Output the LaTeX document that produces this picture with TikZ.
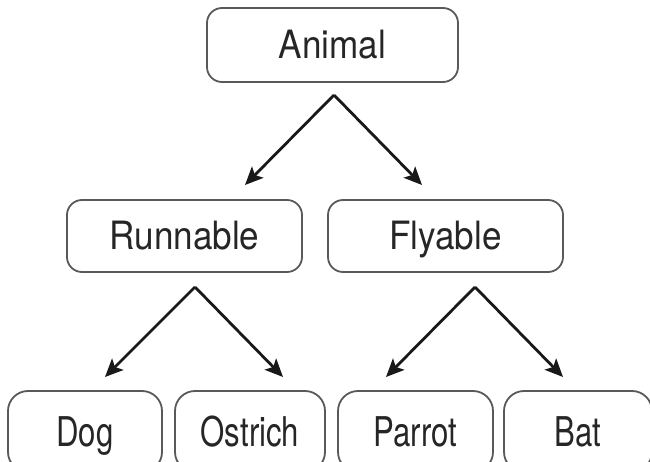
\documentclass[tikz,border=0pt]{standalone}
\usepackage{fontspec}
\newfontfamily\boxfont[FakeStretch=0.9]{TeX Gyre Heros}
\newfontfamily\leaffont[FakeStretch=0.76]{TeX Gyre Heros}
\usetikzlibrary{arrows.meta,positioning}
\colorlet{boxline}{black!65}
\tikzstyle{kind}=[draw=boxline,line width=1.8pt,rounded corners=15pt,
  minimum width=235pt,minimum height=72pt,inner sep=0pt,
  text height=28pt,text depth=0pt,text=black!85,
  font=\boxfont\fontsize{39}{39}\selectfont]
\tikzstyle{leaf}=[draw=boxline,line width=1.8pt,rounded corners=20pt,
  minimum width=152pt,minimum height=81pt,inner sep=0pt,
  text height=29.5pt,text depth=0pt,text=black!85,
  font=\leaffont\fontsize{41}{41}\selectfont]
\tikzstyle{isa}=[-{Stealth[length=18pt,width=16pt,inset=4pt]},line width=2.8pt,black!90]

\begin{document}
\begin{tikzpicture}[x=1pt, y=1pt, on grid]
  \useasboundingbox (0,0) rectangle (650,-462);
  \node[kind, minimum width=251pt, minimum height=74pt] (animal) at (332.5,-45) {Animal};
  \node[kind, below=191pt of animal, xshift=-148pt] (runnable) {Runnable};
  \node[kind, right=261pt of runnable]              (flyable)  {Flyable};
  \node[leaf, minimum width=154pt] (dog)     at (85,-431.5)   {Dog};
  \node[leaf, right=165pt of dog, minimum width=150pt] (ostrich) {Ostrich};
  \node[leaf, right=165.5pt of ostrich, minimum width=155pt] (parrot) {Parrot};
  \node[leaf, right=162.5pt of parrot, minimum width=148pt]  (bat) {Bat};

  % arrow ends
  \coordinate (a0) at (334,-95);
  \coordinate (a1) at (245,-185);
  \coordinate (a2) at (422,-185);
  \coordinate (r0) at (195,-287);
  \coordinate (r1) at (105,-377);
  \coordinate (r2) at (283,-377);
  \coordinate (f0) at (475,-287);
  \coordinate (f1) at (386,-377);
  \coordinate (f2) at (563,-377);

  \draw[isa] (a0) -- (a1);
  \draw[isa] (a0) -- (a2);
  \draw[isa] (r0) -- (r1);
  \draw[isa] (r0) -- (r2);
  \draw[isa] (f0) -- (f1);
  \draw[isa] (f0) -- (f2);
\end{tikzpicture}
\end{document}
